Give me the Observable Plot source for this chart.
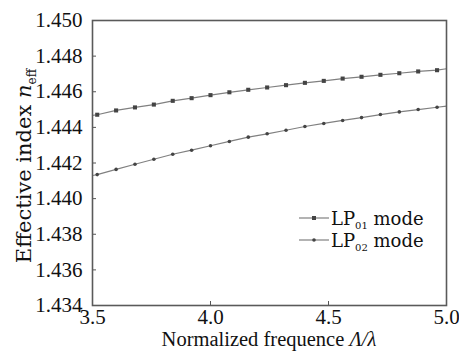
<!DOCTYPE html>
<html><head><meta charset="utf-8">
<script src="https://cdn.jsdelivr.net/npm/d3@7"></script>
<script src="https://cdn.jsdelivr.net/npm/@observablehq/plot@0.6"></script>
<style>body{margin:0;background:#fff}#chart{width:459px;height:351px;overflow:hidden}</style>
</head><body><div id="chart"></div>
<script>
// Normalized frequence Λ/λ at the markers
const freq = [3.52, 3.60, 3.68, 3.76, 3.84, 3.92, 4.00, 4.08, 4.16, 4.24, 4.32, 4.40, 4.48, 4.56, 4.64, 4.72, 4.80, 4.88, 4.96];
// Effective index of each mode
const lp01 = [1.44471, 1.44495, 1.44512, 1.44528, 1.44549, 1.44564, 1.44581, 1.44597, 1.44611, 1.44624, 1.44637, 1.44650, 1.44661, 1.44674, 1.44684, 1.44695, 1.44704, 1.44714, 1.44721];
const lp02 = [1.44135, 1.44164, 1.44193, 1.44221, 1.44249, 1.44272, 1.44297, 1.44321, 1.44345, 1.44364, 1.44384, 1.44405, 1.44422, 1.44439, 1.44455, 1.44472, 1.44487, 1.44500, 1.44513];
// Curve values at the frame edges
const edgeFreq = [3.5, 5.0];
const lp01Edge = [1.44467, 1.44729];
const lp02Edge = [1.44130, 1.44519];
// Axis ticks
const xTicks = [3.5, 4.0, 4.5, 5.0];
const yTicks = [1.434, 1.436, 1.438, 1.440, 1.442, 1.444, 1.446, 1.448, 1.450];
const seriesNames = ["LP01 mode", "LP02 mode"];

const pts01 = freq.map((f, i) => ({f, n: lp01[i]}));
const pts02 = freq.map((f, i) => ({f, n: lp02[i]}));
const line01 = [{f: edgeFreq[0], n: lp01Edge[0]}, ...pts01, {f: edgeFreq[1], n: lp01Edge[1]}];
const line02 = [{f: edgeFreq[0], n: lp02Edge[0]}, ...pts02, {f: edgeFreq[1], n: lp02Edge[1]}];

const lineColor = "#808080", dotColor = "#444";
const tickFont = "'Liberation Serif', 'Times New Roman', serif";

const svg = Plot.plot({
  width: 459, height: 351,
  marginLeft: 92, marginRight: 13, marginTop: 20, marginBottom: 46,
  style: {fontFamily: tickFont, fontSize: "21px", color: "#111", background: "#fff"},
  x: {domain: [3.5, 5.0]},
  y: {domain: [1.434, 1.450]},
  marks: [
    Plot.line(line01, {x: "f", y: "n", stroke: lineColor, strokeWidth: 1.2}),
    Plot.line(line02, {x: "f", y: "n", stroke: lineColor, strokeWidth: 1.2}),
    Plot.dot(pts01, {x: "f", y: "n", symbol: "square", r: 2.3, fill: dotColor, stroke: "none"}),
    Plot.dot(pts02, {x: "f", y: "n", symbol: "circle", r: 1.8, fill: dotColor, stroke: "none"}),
    Plot.axisX({ticks: xTicks, tickFormat: d3.format(".1f"), tickSize: -4, tickPadding: 8, stroke: "#555", label: null}),
    Plot.axisY({ticks: yTicks, tickFormat: d3.format(".3f"), tickSize: -4, tickPadding: 14, stroke: "#555", label: null}),
    Plot.frame({stroke: "#5a5a5a", strokeWidth: 1.6})
  ]
});
document.getElementById("chart").appendChild(svg);

const s = d3.select(svg);
const labelFont = "'DejaVu Serif', serif";
// x label
const xl = s.append("text").attr("x", 269).attr("y", 346).attr("text-anchor", "middle")
  .attr("font-family", tickFont).attr("font-size", 20.5).attr("fill", "#111");
xl.append("tspan").text("Normalized frequence ");
xl.append("tspan").attr("font-style", "italic").text("Λ/λ");
// y label
const yl = s.append("text").attr("transform", "translate(31,166) rotate(-90)").attr("text-anchor", "middle")
  .attr("font-family", labelFont).attr("font-size", 21).attr("fill", "#111");
yl.append("tspan").text("Effective index ");
yl.append("tspan").attr("font-style", "italic").text("n");
yl.append("tspan").attr("font-size", 12).attr("dy", 5).text("eff");
// legend
const leg = [
  {name: seriesNames[0], base: "LP", sub: "01", rest: " mode", y: 218, sym: "square"},
  {name: seriesNames[1], base: "LP", sub: "02", rest: " mode", y: 240, sym: "circle"}
];
leg.forEach(d => {
  s.append("line").attr("x1", 299).attr("x2", 329).attr("y1", d.y).attr("y2", d.y)
    .attr("stroke", lineColor).attr("stroke-width", 1.2);
  if (d.sym === "square") s.append("rect").attr("x", 312).attr("y", d.y - 2).attr("width", 4).attr("height", 4).attr("fill", dotColor);
  else s.append("circle").attr("cx", 314).attr("cy", d.y).attr("r", 1.8).attr("fill", dotColor);
  const t = s.append("text").attr("x", 331).attr("y", d.y + 7).attr("text-anchor", "start")
    .attr("font-family", labelFont).attr("font-size", 18).attr("fill", "#111");
  t.append("tspan").text(d.base);
  t.append("tspan").attr("font-size", 10).attr("dy", 4).text(d.sub);
  t.append("tspan").attr("dy", -4).text(d.rest);
});
</script>
</body></html>
